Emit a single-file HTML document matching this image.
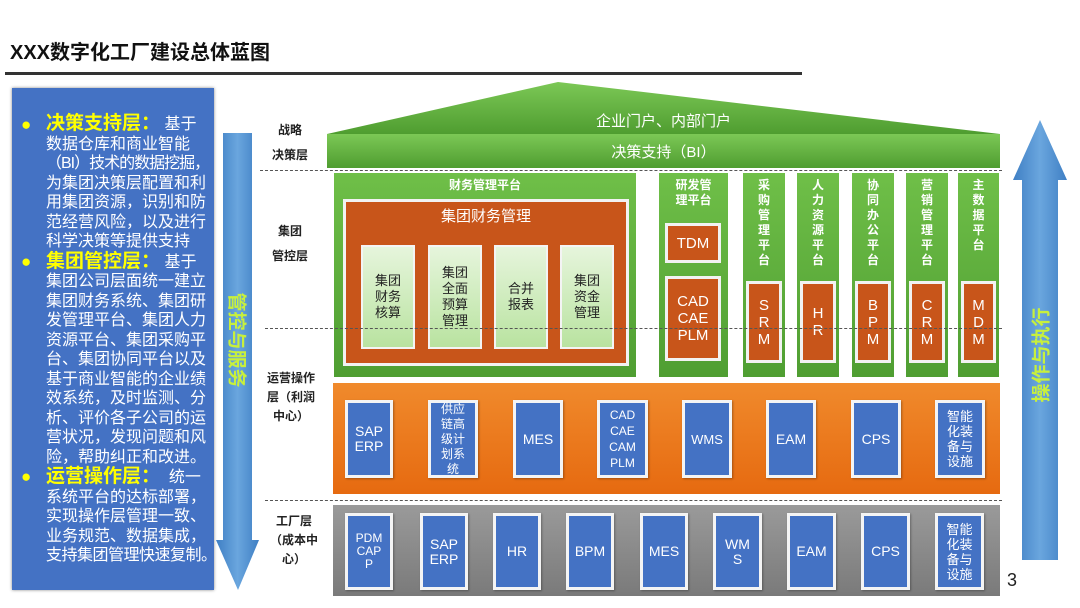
<!DOCTYPE html>
<html><head><meta charset="utf-8"><style>
*{margin:0;padding:0;box-sizing:border-box}
body{width:1080px;height:608px;background:#fff;position:relative;overflow:hidden;font-family:"Liberation Sans","Noto Sans CJK SC",sans-serif}
.a{position:absolute}
.lbl{position:absolute;font-size:12px;font-weight:bold;color:#222;text-align:center;line-height:19px}
.dash{position:absolute;height:0;border-top:1.5px dashed #555}
.c{display:flex;align-items:center;justify-content:center;text-align:center}
.lg{position:absolute;background:linear-gradient(#e6f5dc,#b9e3a0);border:2px solid #f4f4f4;color:#222;font-size:13px;line-height:16px}
.or{position:absolute;background:#c8551a;border:3px solid #f2f2f2;color:#fff;font-size:15px;line-height:17px}
.gc{position:absolute;background:linear-gradient(#6fbf48,#4f9e32);color:#fff;font-size:12px;font-weight:bold;line-height:15px;text-align:center;padding-top:5px}
.bb{position:absolute;background:#4472c4;border:3px solid #f4f4f4;color:#fff;font-size:13px;line-height:15px;box-shadow:1px 1px 2px rgba(0,0,0,.3)}
.lt{position:absolute;left:46px;top:114px;color:#fff;font-size:16px;line-height:19.5px;white-space:nowrap}
.lt b{color:#ffff00;font-size:19px}
.bu{position:absolute;left:21px;color:#ffff00;font-size:17px}
</style></head><body>
<div class="a" style="left:10px;top:36px;font-size:20px;font-weight:bold;color:#111">XXX数字化工厂建设总体蓝图</div>
<div class="a" style="left:5px;top:72px;width:797px;height:3px;background:#333"></div>

<div class="a" style="left:12px;top:88px;width:202px;height:502px;background:#4472c4;box-shadow:0 0 3px #888"></div>
<div class="bu" style="top:115px">●</div>
<div class="bu" style="top:252px">●</div>
<div class="bu" style="top:467px">●</div>
<div class="lt"><b>决策支持层：</b> 基于<br>数据仓库和商业智能<br><span style="letter-spacing:-1px">（BI）技术的数据挖掘，</span><br>为集团决策层配置和利<br>用集团资源，识别和防<br>范经营风险，以及进行<br>科学决策等提供支持<br><b>集团管控层：</b> 基于<br>集团公司层面统一建立<br>集团财务系统、集团研<br>发管理平台、集团人力<br>资源平台、集团采购平<br>台、集团协同平台以及<br>基于商业智能的企业绩<br>效系统，及时监测、分<br>析、评价各子公司的运<br>营状况，发现问题和风<br>险，帮助纠正和改进。<br><b>运营操作层：</b> &nbsp;统一<br>系统平台的达标部署，<br>实现操作层管理一致、<br>业务规范、数据集成，<br><span style="letter-spacing:-0.5px">支持集团管理快速复制。</span></div>

<svg class="a" style="left:0;top:0" width="1080" height="608">
<defs><linearGradient id="bl" x1="0" x2="1"><stop offset="0" stop-color="#3f7fc4"/><stop offset=".5" stop-color="#6aa6de"/><stop offset="1" stop-color="#3f7fc4"/></linearGradient>
<linearGradient id="gr" x1="0" y1="0" x2="0" y2="1"><stop offset="0" stop-color="#7cc856"/><stop offset="1" stop-color="#4f9d30"/></linearGradient></defs>
<polygon points="223,133 252,133 252,540 259,540 238,590 216,540 223,540" fill="url(#bl)"/>
<polygon points="1022,560 1058,560 1058,180 1067,180 1040,120 1013,180 1022,180" fill="url(#bl)"/>
<polygon points="327,134 558,82 1000,134" fill="url(#gr)"/>
<rect x="327" y="134" width="673" height="34" fill="url(#gr)"/>
</svg>
<div class="a" style="left:238px;top:340px;transform:translate(-50%,-50%) rotate(90deg);color:#c8f03c;font-size:19px;font-weight:bold;white-space:nowrap">管控与服务</div>
<div class="a" style="left:1040px;top:355px;transform:translate(-50%,-50%) rotate(-90deg);color:#c8f03c;font-size:19px;font-weight:bold;white-space:nowrap">操作与执行</div>
<div class="a" style="left:327px;top:110px;width:673px;text-align:center;color:#fff;font-size:15px">企业门户、内部门户</div>
<div class="a" style="left:327px;top:141px;width:673px;text-align:center;color:#fff;font-size:15px">决策支持（BI）</div>

<div class="lbl" style="left:268px;top:121px;width:44px">战略<br><span style="line-height:30px">决策层</span></div>
<div class="lbl" style="left:268px;top:222px;width:44px">集团<br><span style="line-height:30px">管控层</span></div>
<div class="lbl" style="left:262px;top:369px;width:58px">运营操作层（利润中心）</div>
<div class="lbl" style="left:268px;top:512px;width:52px">工厂层<br>（成本中心）</div>

<div class="gc" style="left:334px;top:173px;width:302px;height:204px">财务管理平台</div>
<div class="a" style="left:343px;top:199px;width:286px;height:167px;background:#c8551a;border:3px solid #f2f2f2;color:#fff;font-size:15px;text-align:center;padding-top:3px">集团财务管理</div>
<div class="lg c" style="left:361px;top:245px;width:54px;height:104px">集团<br>财务<br>核算</div>
<div class="lg c" style="left:428px;top:245px;width:54px;height:104px">集团<br>全面<br>预算<br>管理</div>
<div class="lg c" style="left:494px;top:245px;width:54px;height:104px">合并<br>报表</div>
<div class="lg c" style="left:560px;top:245px;width:54px;height:104px">集团<br>资金<br>管理</div>

<div class="gc" style="left:659px;top:173px;width:69px;height:204px">研发管<br>理平台</div>
<div class="or c" style="left:665px;top:223px;width:56px;height:40px">TDM</div>
<div class="or c" style="left:665px;top:276px;width:56px;height:85px">CAD<br>CAE<br>PLM</div>
<div class="gc" style="left:743px;top:173px;width:42px;height:204px">采<br>购<br>管<br>理<br>平<br>台</div>
<div class="gc" style="left:797px;top:173px;width:42px;height:204px">人<br>力<br>资<br>源<br>平<br>台</div>
<div class="gc" style="left:852px;top:173px;width:42px;height:204px">协<br>同<br>办<br>公<br>平<br>台</div>
<div class="gc" style="left:906px;top:173px;width:42px;height:204px">营<br>销<br>管<br>理<br>平<br>台</div>
<div class="gc" style="left:958px;top:173px;width:41px;height:204px">主<br>数<br>据<br>平<br>台</div>
<div class="or c" style="left:746px;top:281px;width:36px;height:82px">S<br>R<br>M</div>
<div class="or c" style="left:800px;top:281px;width:36px;height:82px">H<br>R</div>
<div class="or c" style="left:855px;top:281px;width:36px;height:82px">B<br>P<br>M</div>
<div class="or c" style="left:909px;top:281px;width:36px;height:82px">C<br>R<br>M</div>
<div class="or c" style="left:961px;top:281px;width:35px;height:82px">M<br>D<br>M</div>

<div class="dash" style="left:260px;top:170px;width:742px"></div>
<div class="dash" style="left:265px;top:328px;width:737px"></div>
<div class="dash" style="left:265px;top:500px;width:737px"></div>

<div class="a" style="left:333px;top:383px;width:667px;height:111px;background:linear-gradient(#f08a2c,#e66a10)"></div>
<div class="bb c" style="left:345px;top:400px;width:48px;height:78px;font-size:14px">SAP<br>ERP</div>
<div class="bb c" style="left:428px;top:400px;width:50px;height:78px;font-size:12px">供应<br>链高<br>级计<br>划系<br>统</div>
<div class="bb c" style="left:513px;top:400px;width:50px;height:78px;font-size:14px">MES</div>
<div class="bb c" style="left:597px;top:400px;width:51px;height:78px;font-size:12px;line-height:16px">CAD<br>CAE<br>CAM<br>PLM</div>
<div class="bb c" style="left:682px;top:400px;width:50px;height:78px">WMS</div>
<div class="bb c" style="left:766px;top:400px;width:50px;height:78px;font-size:14px">EAM</div>
<div class="bb c" style="left:851px;top:400px;width:50px;height:78px;font-size:14px">CPS</div>
<div class="bb c" style="left:935px;top:400px;width:50px;height:78px;font-size:13px">智能<br>化装<br>备与<br>设施</div>

<div class="a" style="left:333px;top:505px;width:667px;height:91px;background:linear-gradient(#9a9a9a,#7a7a7a)"></div>
<div class="bb c" style="left:345px;top:513px;width:48px;height:77px;font-size:12px;line-height:13px">PDM<br>CAP<br>P</div>
<div class="bb c" style="left:420px;top:513px;width:48px;height:77px;font-size:14px">SAP<br>ERP</div>
<div class="bb c" style="left:493px;top:513px;width:48px;height:77px;font-size:14px">HR</div>
<div class="bb c" style="left:566px;top:513px;width:48px;height:77px;font-size:14px">BPM</div>
<div class="bb c" style="left:640px;top:513px;width:48px;height:77px;font-size:14px">MES</div>
<div class="bb c" style="left:713px;top:513px;width:49px;height:77px;font-size:14px">WM<br>S</div>
<div class="bb c" style="left:787px;top:513px;width:49px;height:77px;font-size:14px">EAM</div>
<div class="bb c" style="left:861px;top:513px;width:49px;height:77px;font-size:14px">CPS</div>
<div class="bb c" style="left:935px;top:513px;width:49px;height:77px;font-size:13px">智能<br>化装<br>备与<br>设施</div>
<div class="a" style="left:1007px;top:570px;font-size:18px;color:#222">3</div>
</body></html>
